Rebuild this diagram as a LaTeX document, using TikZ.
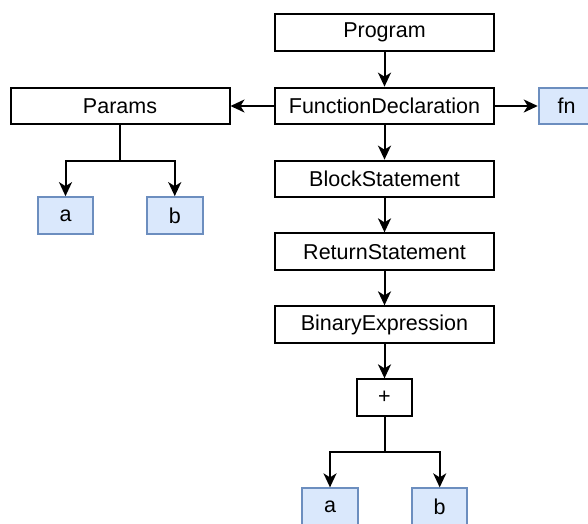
\documentclass[tikz,border=0pt]{standalone}
\usepackage{fontspec}
\setmainfont{Liberation Sans}
\usetikzlibrary{arrows.meta}
\definecolor{leafdraw}{HTML}{6C8EBF}
\definecolor{leaffill}{HTML}{DAE8FC}
\begin{document}
\begin{tikzpicture}[x=1pt,y=-1pt,
  box/.style={draw=black, line width=2pt, fill=white, minimum height=36.7pt, inner sep=0pt, font=\fontsize{21.5}{25}\selectfont},
  wide/.style={box, minimum width=219pt},
  leaf/.style={box, draw=leafdraw, fill=leaffill, minimum width=55.5pt},
  plain/.style={line width=2pt},
  arr/.style={line width=2pt, -{Stealth[length=14pt,width=13pt,inset=4pt]}}]
\useasboundingbox (0,0) rectangle (588,523);
\clip (0,0) rectangle (588,523);
\node[wide] (prog) at (384.5,32.5) {Program};
\node[wide] (fd) at (384.5,106) {FunctionDeclaration};
\node[wide] (params) at (120,106) {Params};
\node[leaf] (fn) at (566.5,106) {fn};
\node[leaf] (a1) at (65.5,215.5) {a};
\node[leaf] (b1) at (174.75,215.5) {b};
\node[wide] (bs) at (384.5,179) {BlockStatement};
\node[wide] (rs) at (384.5,251.7) {ReturnStatement};
\node[wide] (be) at (384.5,324.7) {BinaryExpression};
\node[box, minimum width=55pt] (plus) at (384.5,397.7) {+};
\node[leaf] (a2) at (330,506.7) {a};
\node[leaf] (b2) at (439.7,506.7) {b};
\coordinate (pj) at (120,160.7);
\coordinate (qj) at (384.5,451.7);
\draw[arr] (prog) -- (fd);
\draw[arr] (fd) -- (params);
\draw[arr] (fd) -- (fn);
\draw[arr] (fd) -- (bs);
\draw[arr] (bs) -- (rs);
\draw[arr] (rs) -- (be);
\draw[arr] (be) -- (plus);
\draw[plain] (params.south) -- (pj);
\draw[arr] (pj) -| (a1.north);
\draw[arr] (pj) -| (b1.north);
\draw[plain] (plus.south) -- (qj);
\draw[arr] (qj) -| (a2.north);
\draw[arr] (qj) -| (b2.north);
\end{tikzpicture}
\end{document}
